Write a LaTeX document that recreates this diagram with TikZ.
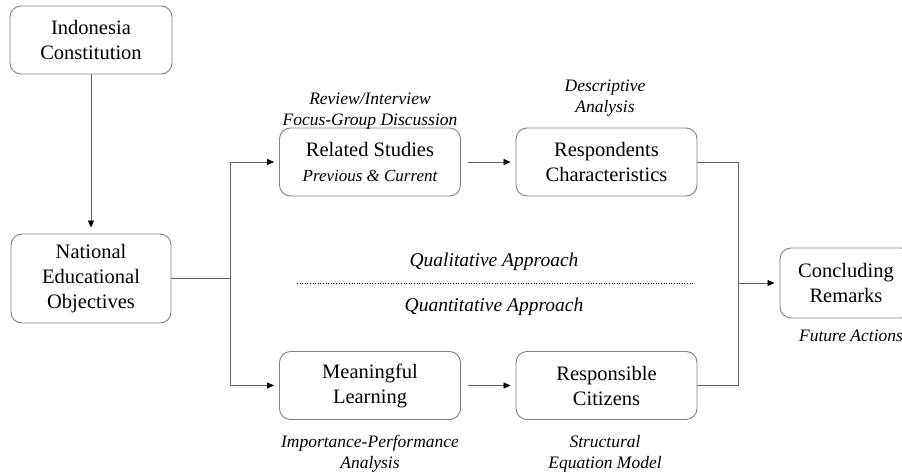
\documentclass[tikz,border=0pt]{standalone}
\usepackage{fontspec}
\setmainfont{Liberation Serif}
\usetikzlibrary{arrows.meta}

\begin{document}
\begin{tikzpicture}[x=1pt,y=1pt,yscale=-1,xscale=1,
	box/.style={draw={rgb, 255:red, 128; green, 128; blue, 128}, line width=0.9pt, rounded corners=11pt, align=center, inner sep=0pt, minimum width=181, minimum height=68, font=\fontsize{20.5}{25}\selectfont},
	lbl/.style={align=center, inner sep=0pt, font=\fontsize{17.5}{21}\selectfont\itshape},
	approach/.style={inner sep=0pt, font=\fontsize{19.5}{23}\selectfont\itshape},
	wire/.style={draw={rgb, 255:red, 100; green, 100; blue, 100}, line width=0.8pt},
	arr/.style={wire, -{Triangle[length=7pt,width=6pt,color=black]}, shorten >=5pt}]
	\useasboundingbox (0,0) rectangle (902,474);
	\clip (0,0) rectangle (902,474);
	\node [box, minimum width=162] (constitution) at (91,40) {Indonesia\\Constitution};
	\node [box, minimum width=160, minimum height=89] (objectives) at (91,278.5) {National\\Educational\\Objectives};
	\node [box] (related) at (370,162) {Related Studies\\{\fontsize{17}{21}\selectfont\itshape Previous \& Current}};
	\node [box] (respondents) at (606.5,162) {Respondents\\Characteristics};
	\node [box] (meaningful) at (370,385.5) {Meaningful\\Learning};
	\node [box] (citizens) at (606.5,385.5) {Responsible\\Citizens};
	\node [box, minimum width=132, minimum height=70] (remarks) at (846,283) {Concluding\\Remarks};
	\node [lbl] (review) at (370,111) {Review/Interview\\Focus-Group Discussion};
	\node [lbl] (descriptive) at (605,98) {Descriptive\\Analysis};
	\node [lbl] (ipa) at (370,454) {Importance-Performance\\Analysis};
	\node [lbl] (sem) at (605,454) {Structural\\Equation Model};
	\node [lbl] (future) at (851,336) {Future Actions};
	\node [approach] (qualitative) at (494,262) {Qualitative Approach};
	\node [approach] (quantitative) at (494,307) {Quantitative Approach};
	\coordinate (split) at (230,278.5);
	\coordinate (merge) at (738,283);
	\draw [dotted, line width=0.6pt] (297,283) -- (693,283);
	\draw [arr, shorten >=6pt] (constitution) -- (objectives);
	\draw [wire] (objectives.east) -- (split);
	\draw [arr] (split) |- (related.west);
	\draw [arr] (split) |- (meaningful.west);
	\draw [arr, shorten <=7pt] (related) -- (respondents);
	\draw [arr, shorten <=7pt] (meaningful) -- (citizens);
	\draw [wire] (respondents.east) -| (merge);
	\draw [wire] (citizens.east) -| (merge);
	\draw [arr] (merge) -- (remarks.west);
\end{tikzpicture}
\end{document}
